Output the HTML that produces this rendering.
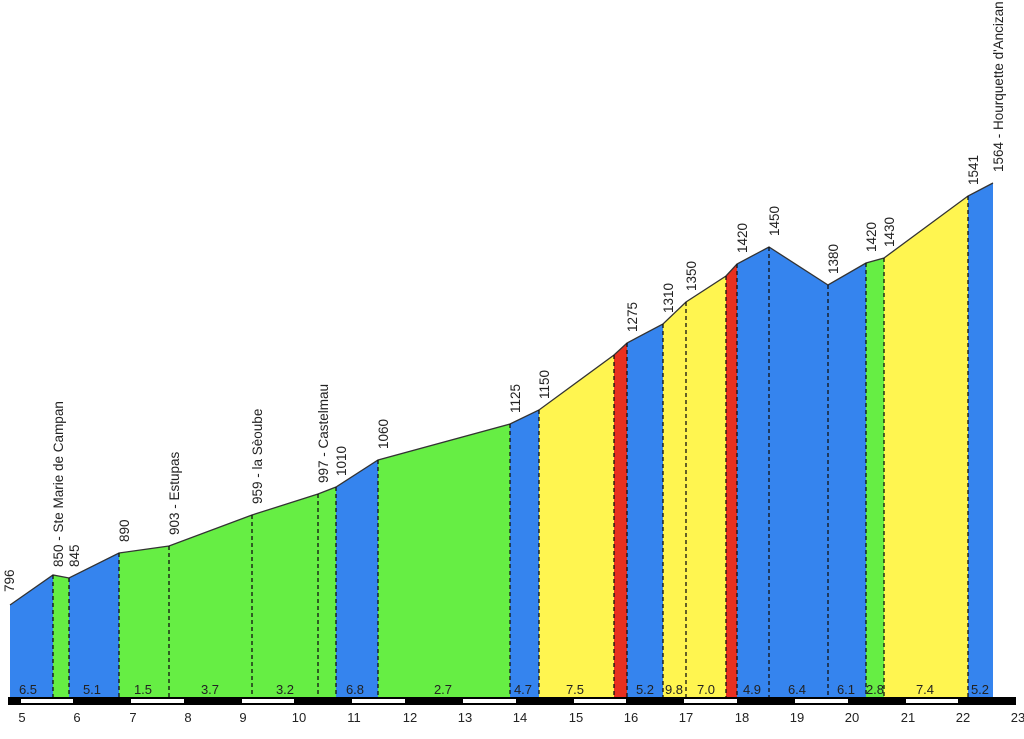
<!DOCTYPE html>
<html><head><meta charset="utf-8"><style>
html,body{margin:0;padding:0;background:#fff;}
svg{display:block;font-family:"Liberation Sans",Arial,sans-serif;}
</style></head><body>
<svg width="1024" height="739" viewBox="0 0 1024 739">
<g stroke="none">
<polygon fill="#3584ee" points="10,697 10,605 53,575 53,697"/>
<polygon fill="#66ee44" points="53,697 53,575 69,578 69,697"/>
<polygon fill="#3584ee" points="69,697 69,578 119,553 119,697"/>
<polygon fill="#66ee44" points="119,697 119,553 169,546 252,515 318,494 336,487 336,697"/>
<polygon fill="#3584ee" points="336,697 336,487 378,460 378,697"/>
<polygon fill="#66ee44" points="378,697 378,460 510,424 510,697"/>
<polygon fill="#3584ee" points="510,697 510,424 539,410 539,697"/>
<polygon fill="#fff550" points="539,697 539,410 614,355 614,697"/>
<polygon fill="#e83020" points="614,697 614,355 627,343 627,697"/>
<polygon fill="#3584ee" points="627,697 627,343 663,324 663,697"/>
<polygon fill="#fff550" points="663,697 663,324 686,302 726,276 726,697"/>
<polygon fill="#e83020" points="726,697 726,276 737,264 737,697"/>
<polygon fill="#3584ee" points="737,697 737,264 769,247 828,285 866,263 866,697"/>
<polygon fill="#66ee44" points="866,697 866,263 884,258 884,697"/>
<polygon fill="#fff550" points="884,697 884,258 968,196 968,697"/>
<polygon fill="#3584ee" points="968,697 968,196 993,183 993,697"/>
</g>
<polyline fill="none" stroke="#333" stroke-width="1.3" points="10,605 53,575 69,578 119,553 169,546 252,515 318,494 336,487 378,460 510,424 539,410 614,355 627,343 663,324 686,302 726,276 737,264 769,247 828,285 866,263 884,258 968,196 993,183"/>
<g stroke="#111" stroke-width="1.3" stroke-dasharray="4,3">
<line x1="53" y1="575" x2="53" y2="697"/><line x1="69" y1="578" x2="69" y2="697"/>
<line x1="119" y1="553" x2="119" y2="697"/><line x1="169" y1="546" x2="169" y2="697"/>
<line x1="252" y1="515" x2="252" y2="697"/><line x1="318" y1="494" x2="318" y2="697"/>
<line x1="336" y1="487" x2="336" y2="697"/><line x1="378" y1="460" x2="378" y2="697"/>
<line x1="510" y1="424" x2="510" y2="697"/><line x1="539" y1="410" x2="539" y2="697"/>
<line x1="614" y1="355" x2="614" y2="697"/><line x1="627" y1="343" x2="627" y2="697"/>
<line x1="663" y1="324" x2="663" y2="697"/><line x1="686" y1="302" x2="686" y2="697"/>
<line x1="726" y1="276" x2="726" y2="697"/><line x1="737" y1="264" x2="737" y2="697"/>
<line x1="769" y1="247" x2="769" y2="697"/><line x1="828" y1="285" x2="828" y2="697"/>
<line x1="866" y1="263" x2="866" y2="697"/><line x1="884" y1="258" x2="884" y2="697"/>
<line x1="968" y1="196" x2="968" y2="697"/>
</g>
<g font-size="13.5" fill="#222">
<text transform="translate(14,592) rotate(-90)">796</text>
<text transform="translate(63,567) rotate(-90)">850 - Ste Marie de Campan</text>
<text transform="translate(79,567) rotate(-90)">845</text>
<text transform="translate(129,542) rotate(-90)">890</text>
<text transform="translate(179,535) rotate(-90)">903 - Estupas</text>
<text transform="translate(262,504) rotate(-90)">959 - la Sèoube</text>
<text transform="translate(328,483) rotate(-90)">997 - Castelmau</text>
<text transform="translate(346,476) rotate(-90)">1010</text>
<text transform="translate(388,449) rotate(-90)">1060</text>
<text transform="translate(520,413) rotate(-90)">1125</text>
<text transform="translate(549,399) rotate(-90)">1150</text>
<text transform="translate(637,332) rotate(-90)">1275</text>
<text transform="translate(673,313) rotate(-90)">1310</text>
<text transform="translate(696,291) rotate(-90)">1350</text>
<text transform="translate(747,253) rotate(-90)">1420</text>
<text transform="translate(779,236) rotate(-90)">1450</text>
<text transform="translate(838,274) rotate(-90)">1380</text>
<text transform="translate(876,252) rotate(-90)">1420</text>
<text transform="translate(894,247) rotate(-90)">1430</text>
<text transform="translate(978,185) rotate(-90)">1541</text>
<text transform="translate(1003,172) rotate(-90)">1564 - Hourquette d'Ancizan</text>
</g>
<g font-size="13" fill="#222" text-anchor="middle">
<text x="28" y="694">6.5</text><text x="92" y="694">5.1</text><text x="143" y="694">1.5</text>
<text x="210" y="694">3.7</text><text x="285" y="694">3.2</text><text x="355" y="694">6.8</text>
<text x="443" y="694">2.7</text><text x="523" y="694">4.7</text><text x="575" y="694">7.5</text>
<text x="645" y="694">5.2</text><text x="674" y="694">9.8</text><text x="706" y="694">7.0</text>
<text x="752" y="694">4.9</text><text x="797" y="694">6.4</text><text x="846" y="694">6.1</text>
<text x="875" y="694">2.8</text><text x="925" y="694">7.4</text><text x="980" y="694">5.2</text>
</g>
<rect x="8" y="697" width="1008" height="8" fill="#000"/>
<g fill="#fff">
<rect x="21" y="699" width="52" height="4"/><rect x="131" y="699" width="53" height="4"/>
<rect x="242" y="699" width="52" height="4"/><rect x="352" y="699" width="53" height="4"/>
<rect x="463" y="699" width="53" height="4"/><rect x="574" y="699" width="52" height="4"/>
<rect x="684" y="699" width="53" height="4"/><rect x="795" y="699" width="53" height="4"/>
<rect x="906" y="699" width="52" height="4"/>
</g>
<g font-size="13" fill="#222" text-anchor="middle">
<text x="22" y="722">5</text><text x="77" y="722">6</text><text x="133" y="722">7</text>
<text x="188" y="722">8</text><text x="243" y="722">9</text><text x="299" y="722">10</text>
<text x="354" y="722">11</text><text x="410" y="722">12</text><text x="465" y="722">13</text>
<text x="520" y="722">14</text><text x="576" y="722">15</text><text x="631" y="722">16</text>
<text x="686" y="722">17</text><text x="742" y="722">18</text><text x="797" y="722">19</text>
<text x="852" y="722">20</text><text x="908" y="722">21</text><text x="963" y="722">22</text>
<text x="1018" y="722">23</text>
</g>
</svg>
</body></html>
